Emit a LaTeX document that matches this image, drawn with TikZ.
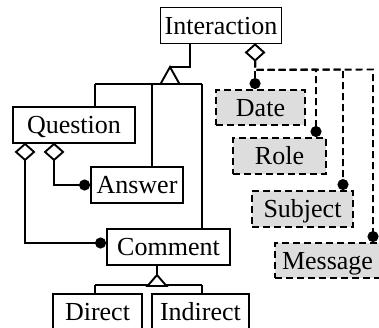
\documentclass[tikz,border=0pt]{standalone}
\usepackage{fontspec}
\setmainfont{Liberation Serif}
\usetikzlibrary{arrows.meta,calc}
\definecolor{boxgray}{RGB}{221,221,221}
\begin{document}
\begin{tikzpicture}[x=1pt,y=-1pt,
  line width=1.9pt,
  every node/.style={inner sep=0pt,font=\fontsize{26}{30}\selectfont,text height=17pt,text depth=0pt},
  cls/.style={draw,fill=white,line width=1.9pt},
  attr/.style={draw,fill=boxgray,line width=1.9pt,dash pattern=on 7pt off 4pt},
  dline/.style={line width=1.9pt,dash pattern=on 7pt off 4pt},
  dot/.style={-{Circle[length=11pt,width=11pt]}},
  dia/.style={draw,fill=white,line width=1.9pt}
]
\useasboundingbox (0,0) rectangle (379,327);
\clip (0,0) rectangle (379,327);

% class boxes
\node[cls,minimum width=121pt,minimum height=36pt] (Int) at (221,25.5) {Interaction};
\node[cls,minimum width=122pt,minimum height=36pt] (Que) at (74,125) {Question};
\node[cls,minimum width=92pt,minimum height=36pt] (Ans) at (137,185) {Answer};
\node[cls,minimum width=123pt,minimum height=36pt] (Com) at (168.5,247) {Comment};
\node[cls,minimum width=89pt,minimum height=36pt] (Dir) at (97.5,312) {Direct};
\node[cls,minimum width=97pt,minimum height=36pt] (Ind) at (200.5,312) {Indirect};

% attribute boxes
\node[attr,minimum width=89pt,minimum height=35pt] (Date) at (260.5,107.5) {Date};
\node[attr,minimum width=93pt,minimum height=36pt] (Role) at (279.5,156) {Role};
\node[attr,minimum width=101pt,minimum height=36pt] (Subj) at (302.5,209) {Subject};
\node[attr,minimum width=105pt,minimum height=35pt] (Mess) at (327.5,260.5) {Message};

% generalisation Interaction
\coordinate (j1) at (190,67);
\coordinate (t1) at (170,67);
\coordinate (b1) at (95,84);
\coordinate (b2) at (202,84);
\coordinate (b3) at (152,84);
\draw (Int.south -| j1) -- (j1) -- (t1);
\draw (b1) -- (b2);
\draw (b1) -- (b1 |- Que.north);
\draw (b3) -- (b3 |- Ans.north);
\draw (b2) -- (b2 |- Com.north);
\draw[fill=white] (t1) -- ++(-9.5,17) -- ++(19,0) -- cycle;

% generalisation Comment
\coordinate (t2) at (157,275);
\coordinate (c1) at (95,285);
\coordinate (c2) at (202,285);
\draw (Com.south -| t2) -- (t2);
\draw (c1) -- (c2);
\draw (c1) -- (c1 |- Dir.north);
\draw (c2) -- (c2 |- Ind.north);
\draw[fill=white] (t2) -- ++(-9.5,11) -- ++(19,0) -- cycle;

% aggregations from Question
\coordinate (d1) at ($(Que.south west)+(13,0)$);
\coordinate (d2) at ($(Que.south west)+(42,0)$);
\coordinate (e1) at ($(d1)+(0,16)$);
\coordinate (e2) at ($(d2)+(0,16)$);
\coordinate (cw) at ([yshift=4pt]Com.west);
\draw[dot] (e1) |- (cw);
\draw[dot] (e2) |- (Ans.west);
\draw[dia] (d1) -- ++(9,8) -- ++(-9,8) -- ++(-9,-8) -- cycle;
\draw[dia] (d2) -- ++(9,8) -- ++(-9,8) -- ++(-9,-8) -- cycle;

% aggregation from Interaction to attributes
\coordinate (d3) at ($(Int.south west)+(95.5,0)$);
\coordinate (e3) at ($(d3)+(0,16)$);
\coordinate (h0) at ($(e3)+(0,9.5)$);
\coordinate (hr) at (316,69.5);
\coordinate (hs) at (343,69.5);
\coordinate (hm) at (373,69.5);
\draw[dline,dot] (e3) -- (e3 |- Date.north);
\draw[dline,dot] (e3) -- (h0) -- (hr) -- (hr |- Role.north);
\draw[dline,dot] (e3) -- (h0) -- (hs) -- (hs |- Subj.north);
\draw[dline,dot] (e3) -- (h0) -- (hm) -- (hm |- Mess.north);
\draw[dia] (d3) -- ++(9,8) -- ++(-9,8) -- ++(-9,-8) -- cycle;
\end{tikzpicture}
\end{document}
